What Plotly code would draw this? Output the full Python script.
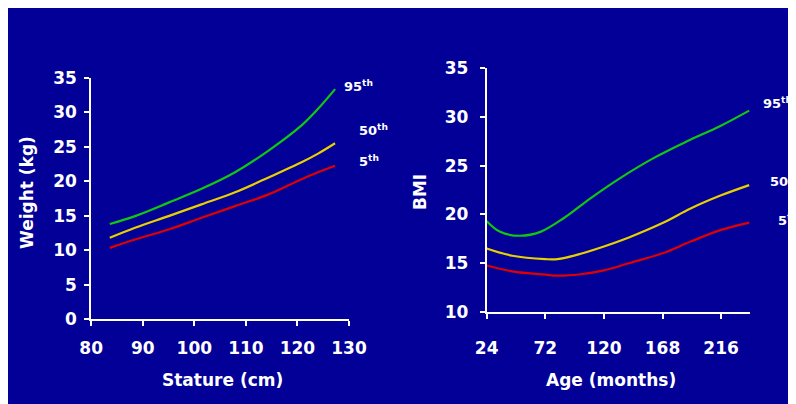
import plotly.graph_objects as go

# ---- Data: Weight-for-stature (left panel) ----
stature = [83.6, 88.5, 95.0, 101.4, 107.9, 114.4, 120.8, 124.0, 127.3]
w_p95 = [13.8, 14.95, 16.9, 18.9, 21.3, 24.45, 28.1, 30.5, 33.35]
w_p50 = [11.8, 13.25, 14.95, 16.65, 18.4, 20.55, 22.75, 24.0, 25.5]
w_p5 = [10.35, 11.55, 13.0, 14.7, 16.4, 18.1, 20.3, 21.3, 22.25]

# ---- Data: BMI-for-age (right panel) ----
age = [24, 35, 51, 68, 87, 109, 133, 161, 188, 215, 239]
bmi_p95 = [19.3, 18.2, 17.8, 18.2, 19.6, 21.65, 23.7, 25.8, 27.5, 29.05, 30.65]
age_lo = [24, 45, 72, 82, 101, 120, 141, 168, 191, 216, 239]
bmi_p50 = [16.5, 15.75, 15.4, 15.4, 15.95, 16.7, 17.65, 19.1, 20.6, 21.95, 23.0]
bmi_p5 = [14.75, 14.15, 13.8, 13.7, 13.85, 14.25, 15.0, 16.0, 17.2, 18.4, 19.15]

left_xticks = [80, 90, 100, 110, 120, 130]
left_yticks = [0, 5, 10, 15, 20, 25, 30, 35]
right_xticks = [24, 72, 120, 168, 216]
right_yticks = [10, 15, 20, 25, 30, 35]

GREEN = "#10c810"
YELLOW = "#e8d000"
RED = "#e00000"
BG = "#020096"
OFF = 8  # page body margin offset
W, H = 796, 404
FONT = "DejaVu Sans"

fig = go.Figure()

for ys, c in [(w_p95, GREEN), (w_p50, YELLOW), (w_p5, RED)]:
    fig.add_trace(go.Scatter(x=stature, y=ys, mode="lines", line=dict(color=c, width=2.2, shape="spline"),
                             xaxis="x", yaxis="y", showlegend=False))
for xs, ys, c in [(age, bmi_p95, GREEN), (age_lo, bmi_p50, YELLOW), (age_lo, bmi_p5, RED)]:
    fig.add_trace(go.Scatter(x=xs, y=ys, mode="lines", line=dict(color=c, width=2.2, shape="spline"),
                             xaxis="x2", yaxis="y2", showlegend=False))

def px_x(p):
    return (p - OFF) / W

def px_y(p):
    return 1 - (p - OFF) / H

tickfont = dict(family=FONT, size=17, color="white", weight="bold")
axis_common = dict(showline=True, linewidth=2, linecolor="white", showgrid=False, zeroline=False,
                   ticks="outside", ticklen=5, tickwidth=2, tickcolor="white", tickfont=tickfont,
                   fixedrange=True, automargin=False)

fig.update_layout(
    width=W, height=H,
    margin=dict(l=0, r=0, t=0, b=0, autoexpand=False),
    paper_bgcolor=BG,
    plot_bgcolor="rgba(0,0,0,0)",
    xaxis=dict(domain=[px_x(91.2), px_x(349)], range=[80, 130], tickvals=left_xticks,
               anchor="y", ticklabelstandoff=7, **axis_common),
    yaxis=dict(domain=[px_y(319.3), px_y(77.7)], range=[0, 35], tickvals=left_yticks,
               anchor="x", ticklabelstandoff=4, **axis_common),
    xaxis2=dict(domain=[px_x(486.7), px_x(750.4)], range=[24, 240], tickvals=right_xticks,
                anchor="y2", ticklabelstandoff=15, **axis_common),
    yaxis2=dict(domain=[px_y(311.7), px_y(68.3)], range=[10, 35], tickvals=right_yticks,
                anchor="x2", ticklabelstandoff=8, **axis_common),
)

title_font = dict(family=FONT, size=17, color="white", weight="bold")
ann = [
    ("Weight (kg)", 27, 193, -90),
    ("Stature (cm)", 223, 380, 0),
    ("BMI", 419.3, 191.7, -90),
    ("Age (months)", 611, 380, 0),
]
for text, x, y, ang in ann:
    fig.add_annotation(text=text, xref="paper", yref="paper", x=px_x(x), y=px_y(y),
                       xanchor="center", yanchor="middle", showarrow=False, textangle=ang,
                       font=title_font)

lab_font = dict(family=FONT, size=13, color="white", weight="bold")
labels = [
    ("95<sup>th</sup>", 341.7, 86),
    ("50<sup>th</sup>", 357.3, 130),
    ("5<sup>th</sup>", 357.3, 161),
    ("95<sup>th</sup>", 761, 102.7),
    ("50<sup>th</sup>", 767.7, 181),
    ("5<sup>th</sup>", 776, 220),
]
for text, x, y in labels:
    fig.add_annotation(text=text, xref="paper", yref="paper", x=px_x(x), y=px_y(y),
                       xanchor="left", yanchor="middle", showarrow=False, font=lab_font)

fig.write_html("out.html")
